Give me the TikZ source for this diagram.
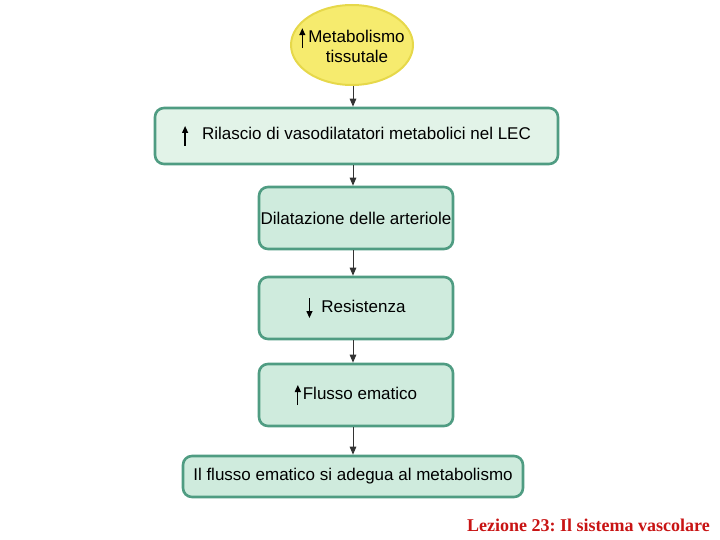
\documentclass[tikz,border=0pt]{standalone}
\usepackage{fontspec}
\setmainfont{Liberation Sans}
\newfontfamily\footfont{Liberation Serif}
\usetikzlibrary{shapes.geometric,arrows.meta}
\frenchspacing
\definecolor{boxborder}{HTML}{4F9C82}
\definecolor{boxfillA}{HTML}{E2F3E8}
\definecolor{boxfillB}{HTML}{CFEBDD}
\definecolor{ellfill}{HTML}{F6EB6E}
\definecolor{ellborder}{HTML}{E6D84A}
\definecolor{footred}{HTML}{C81414}
\newcommand{\myup}{\tikz[baseline=0pt]\draw[line width=1.2pt,-{Triangle[length=7pt,width=6pt]}] (0,-6pt)--(0,14pt);}
\newcommand{\mydown}{\tikz[baseline=0pt]\draw[line width=1.2pt,-{Triangle[length=7pt,width=6pt]}] (0,14pt)--(0,-6pt);}
\tikzset{
  flowbox/.style={draw=boxborder,line width=2.6pt,rounded corners=9pt,fill=boxfillB,
    font=\fontsize{17}{20}\selectfont,inner sep=0pt},
  conn/.style={draw=black!80,line width=1pt,-{Triangle[length=8pt,width=6.5pt]}},
}
\begin{document}
\begin{tikzpicture}[x=1pt,y=-1pt]
\useasboundingbox (0,0) rectangle (720,540);
\node[ellipse,draw=ellborder,line width=2pt,fill=ellfill,minimum width=122pt,minimum height=80pt,
  inner sep=0pt] (e) at (352,45) {};
\node[align=center,font=\fontsize{17}{20}\selectfont,inner sep=0pt] (et) at (e.center)
  {\myup\hspace{3pt}Metabolismo\\\hspace{10pt}tissutale};
\node[flowbox,fill=boxfillA,minimum width=403pt,minimum height=56pt] (b1) at (356.5,136)
  {\myup\hspace{14pt}Rilascio di vasodilatatori metabolici nel LEC};
\node[flowbox,minimum width=194pt,minimum height=62pt] (b2) at (356,218)
  {Dilatazione delle arteriole};
\node[flowbox,minimum width=194pt,minimum height=62pt] (b3) at (356,308)
  {\mydown\hspace{9pt}Resistenza};
\node[flowbox,minimum width=194pt,minimum height=62pt] (b4) at (356,395)
  {\myup\hspace{2pt}Flusso ematico};
\node[flowbox,minimum width=340pt,minimum height=41pt] (b5) at (353,476.5)
  {Il flusso ematico si adegua al metabolismo};
\coordinate (ax) at (353,0);
\draw[conn] (e.south -| ax) -- (b1.north -| ax);
\draw[conn] (b1.south -| ax) -- (b2.north -| ax);
\draw[conn] (b2.south -| ax) -- (b3.north -| ax);
\draw[conn] (b3.south -| ax) -- (b4.north -| ax);
\draw[conn] (b4.south -| ax) -- (b5.north -| ax);
\node[anchor=base east,text=footred,font=\footfont\bfseries\fontsize{18}{20}\selectfont,inner sep=0pt] (foot) at (710,531)
  {Lezione 23: Il sistema vascolare};
\end{tikzpicture}
\end{document}
